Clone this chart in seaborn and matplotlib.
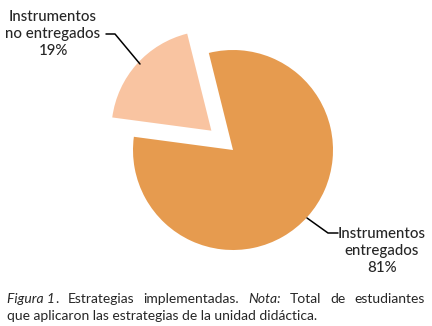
import matplotlib.pyplot as plt
import seaborn as sns

# data
categorias = ["Instrumentos\nentregados", "Instrumentos\nno entregados"]
porcentajes = [81, 19]
colores = ["#E69B4F", "#F9C4A1"]
separacion = [0, 0.29]

sns.set_theme(style="white")
plt.rcParams['font.family'] = ['Lato', 'DejaVu Sans']

fig = plt.figure(figsize=(4.32, 3.26), dpi=100)
ax = fig.add_axes([0, 0, 1, 1])

# pie in pixel coordinates (y up)
cx, cy, r = 233, 326 - 150, 100
ax.pie(porcentajes, colors=colores, startangle=172.4, counterclock=True,
       explode=[e * r for e in separacion], center=(cx, cy), radius=r,
       wedgeprops=dict(linewidth=0))
ax.set_xlim(0, 432)
ax.set_ylim(0, 326)
ax.axis('off')

fs = 10.8
# labels
ax.text(53, 326 - 34, f"{categorias[1]}\n{porcentajes[1]}%", ha='center', va='center',
        fontsize=fs, linespacing=1.3, weight='medium')
ax.plot([106, 115, 140], [326 - 34, 326 - 34, 326 - 64], color='black', lw=1.1)

ax.text(382, 326 - 251, f"{categorias[0]}\n{porcentajes[0]}%", ha='center', va='center',
        fontsize=fs, linespacing=1.3, weight='medium')
ax.plot([307, 328, 338], [326 - 218, 326 - 233, 326 - 233], color='black', lw=1.1)

# caption, first line justified
fc = 10
linea1 = [("Figura 1", 'italic', True), (".", 'normal', False), ("Estrategias", 'normal', True),
          ("implementadas.", 'normal', True), ("Nota:", 'italic', True), ("Total", 'normal', True),
          ("de", 'normal', True), ("estudiantes", 'normal', True)]
linea2 = "que aplicaron las estrategias de la unidad didáctica."
x0, x1 = 7, 425
y1, y2 = 326 - 303, 326 - 320

renderer = fig.canvas.get_renderer()
objs = []
for w, st, sp in linea1:
    t = ax.text(0, y1, w, fontsize=fc, style=st, ha='left', va='baseline')
    objs.append((t, sp))
widths = [t.get_window_extent(renderer).width for t, _ in objs]
gaps = sum(1 for i, (_, sp) in enumerate(objs) if i > 0 and sp)
extra = ((x1 - x0) - sum(widths)) / gaps
x = x0
for i, (t, sp) in enumerate(objs):
    if i > 0 and sp:
        x += extra
    t.set_x(x)
    x += widths[i]

ax.text(x0, y2, linea2, fontsize=fc, ha='left', va='baseline')

fig.savefig("out.png", dpi=100)
